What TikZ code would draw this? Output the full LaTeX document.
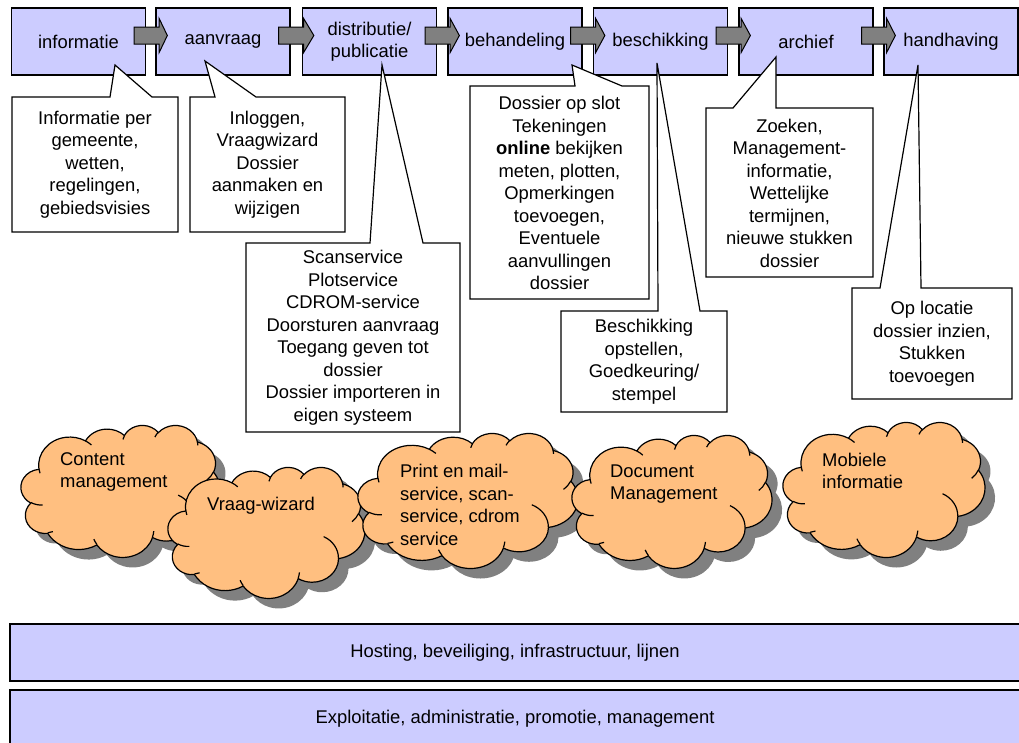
\documentclass[tikz,border=0pt]{standalone}
\usepackage{fontspec}
\setmainfont{Liberation Sans}
\usetikzlibrary{calc}
\definecolor{boxfill}{HTML}{CCCCFF}
\definecolor{cloudfill}{HTML}{FFBF80}
\definecolor{shadowgray}{HTML}{808080}
\definecolor{arrowfill}{HTML}{808080}
\newcommand\blockarrow[2]{%
  \draw[barr] ($(#1.east)+(-12,-14.5)$) -- ($(#1.east)+(13,-14.5)$) -- ($(#1.east)+(13,-23)$)
    -- ($(#2.west)+(12,-6)$) -- ($(#1.east)+(13,11)$) -- ($(#1.east)+(13,2.5)$)
    -- ($(#1.east)+(-12,2.5)$) -- cycle;}
% elliptical arc given by radii and visual start/sweep angles (degrees)
\newcommand\ca[4]{arc[x radius=#1, y radius=#2,
  start angle={atan2(#1*sin(#3),#2*cos(#3))},
  delta angle={mod(atan2(#1*sin(#3+#4),#2*cos(#3+#4))-atan2(#1*sin(#3),#2*cos(#3))+720,360)}]}
\newcommand\cloudoutline{(390,1437)
  \ca{675.3}{919.0}{-190.4875}{123.7805}
  \ca{533.3}{726.7}{-144.1024}{89.9452}
  \ca{436.5}{594.5}{-145.8079}{99.7230}
  \ca{485.7}{659.5}{-130.9861}{117.2417}
  \ca{533.3}{727.3}{-78.7089}{109.0269}
  \ca{677.5}{922.0}{-46.2673}{130.2690}
  \ca{578.5}{786.7}{0.6250}{114.0333}
  \ca{675.2}{921.5}{22.4516}{115.1726}
  \ca{772.0}{1054.3}{66.2426}{75.7110}
  \ca{436.0}{591.8}{-274.9421}{146.7356}
  \ca{434.5}{594.5}{-246.8285}{152.5189} -- cycle}
\newcommand\cloudinner{
  (469.3,2617.7) \ca{434.5}{594.5}{86.742}{26.4295}
  (692.8,3489.9) \ca{436.0}{591.8}{73.6105}{11.4475}
  (1647.8,3909.0) \ca{675.2}{921.5}{137.6242}{14.0811}
  (2882.7,3475.1) \ca{675.2}{921.5}{6.4533}{15.9984}
  (3412.9,2295.4) \ca{578.5}{786.7}{-70.2924}{70.9174}
  (4179.8,1535.4) \ca{533.3}{727.3}{30.3180}{27.7515}
  (3832.4,542.6) \ca{485.7}{659.5}{-13.7443}{14.8589}
  (2907.8,395.2) \ca{485.7}{659.5}{-149.1815}{18.1954}
  (2214.1,472.0) \ca{436.5}{594.5}{-163.4943}{17.6864}
  (1400.0,519.2) \ca{675.3}{919.0}{-66.7070}{12.3194}
  (412.7,1578.9) \ca{675.3}{919.0}{157.6544}{11.8582}}
% #1,#2 top-left of cloud frame, #3 width, #4 height
\newcommand\pptcloud[4]{%
  \begin{scope}[shift={(#1+10,#2+10)}, x={(#3/4320*1pt,0pt)}, y={(0pt,-#4/4320*1pt)}]
    \fill[shadowgray] \cloudoutline;
  \end{scope}
  \begin{scope}[shift={(#1,#2)}, x={(#3/4320*1pt,0pt)}, y={(0pt,-#4/4320*1pt)}]
    \filldraw[cloudline, fill=cloudfill] \cloudoutline;
    \draw[cloudline] \cloudinner;
  \end{scope}}
\begin{document}
\begin{tikzpicture}[x=1pt,y=-1pt,
  font=\fontsize{18.4}{22.5}\selectfont,
  stage/.style={draw, fill=boxfill, line width=1.3pt, minimum width=134pt, minimum height=67pt, inner sep=0pt, align=center},
  barr/.style={draw, fill=arrowfill, line width=1pt, line join=miter},
  bubble/.style={draw, fill=white, line width=1.2pt, line join=miter},
  btext/.style={align=center, inner sep=0pt},
  cloudline/.style={draw=black, line width=1.2pt},
  ctext/.style={align=left, inner sep=0pt, anchor=west},
  bar/.style={draw, fill=boxfill, line width=1.3pt, minimum width=1010pt, minimum height=57pt, inner sep=0pt}
]
\useasboundingbox (0,0) rectangle (1019,742);
\clip (0,0) rectangle (1019,742);
\fill[white] (0,0) rectangle (1019,742);

% process stages
\node[stage] (b1) at (78.5,41.5) {informatie};
\node[stage] (b2) at (223,41.5) {aanvraag};
\node[stage] (b3) at (369.5,41.5) {distributie/\\publicatie};
\node[stage] (b4) at (515,41.5) {behandeling};
\node[stage] (b5) at (660.5,41.5) {beschikking};
\node[stage] (b6) at (806,41.5) {archief};
\node[stage] (b7) at (951,41.5) {handhaving};

\blockarrow{b1}{b2}
\blockarrow{b2}{b3}
\blockarrow{b3}{b4}
\blockarrow{b4}{b5}
\blockarrow{b5}{b6}
\blockarrow{b6}{b7}

% callouts
\draw[bubble] (12,97) -- (110,97) -- (115,65) -- (152,97) -- (178,97) -- (178,232) -- (12,232) -- cycle;
\node[btext] (t1) at (95,164.5) {Informatie per\\gemeente,\\wetten,\\regelingen,\\gebiedsvisies};

\draw[bubble] (190,97) -- (215,97) -- (205,61) -- (256,97) -- (345,97) -- (345,232) -- (190,232) -- cycle;
\node[btext] (t2) at (267.5,164.5) {Inloggen,\\Vraagwizard\\Dossier\\aanmaken en\\wijzigen};

\draw[bubble] (246,243) -- (370,243) -- (382,65) -- (423,243) -- (460,243) -- (460,432) -- (246,432) -- cycle;
\node[btext] (t3) at (353,337.5) {Scanservice\\Plotservice\\CDROM-service\\Doorsturen aanvraag\\Toegang geven tot\\dossier\\Dossier importeren in\\eigen systeem};

\draw[bubble] (470,86) -- (575,86) -- (572,65) -- (622,86) -- (649,86) -- (649,299) -- (470,299) -- cycle;
\node[btext] (t4) at (559.5,193) {Dossier op slot\\Tekeningen\\\textbf{online} bekijken\\meten, plotten,\\Opmerkingen\\toevoegen,\\Eventuele\\aanvullingen\\dossier};

\draw[bubble] (561,311) -- (658,311) -- (657,63) -- (700,311) -- (727,311) -- (727,412) -- (561,412) -- cycle;
\node[btext] (t5) at (644,361.5) {Beschikking\\opstellen,\\Goedkeuring/\\stempel};

\draw[bubble] (706,108) -- (733,108) -- (776,57) -- (776,108) -- (873,108) -- (873,277) -- (706,277) -- cycle;
\node[btext] (t6) at (789.5,193) {Zoeken,\\Management-\\informatie,\\Wettelijke\\termijnen,\\nieuwe stukken\\dossier};

\draw[bubble] (852,288) -- (880,288) -- (918,65) -- (921,288) -- (1012,288) -- (1012,399) -- (852,399) -- cycle;
\node[btext] (t7) at (932,343.5) {Op locatie\\dossier inzien,\\Stukken\\toevoegen};

% clouds
\pptcloud{21}{425}{199}{132}
\node[ctext] (k1t) at (60,472) {Content\\management};
\pptcloud{168}{467}{197}{131}
\node[ctext] (k2t) at (207,506) {Vraag-wizard};
\pptcloud{358}{433}{220}{135}
\node[ctext] (k3t) at (400,505) {Print en mail-\\service, scan-\\service, cdrom\\service};
\pptcloud{572}{435}{200}{133}
\node[ctext] (k4t) at (610,484) {Document\\Management};
\pptcloud{783}{422}{202}{135}
\node[ctext] (k5t) at (822,471) {Mobiele\\informatie};

% base layers
\node[bar] (l1) at (515,652.5) {Hosting, beveiliging, infrastructuur, lijnen};
\node[bar] (l2) at (515,718.5) {Exploitatie, administratie, promotie, management};
\end{tikzpicture}
\end{document}
